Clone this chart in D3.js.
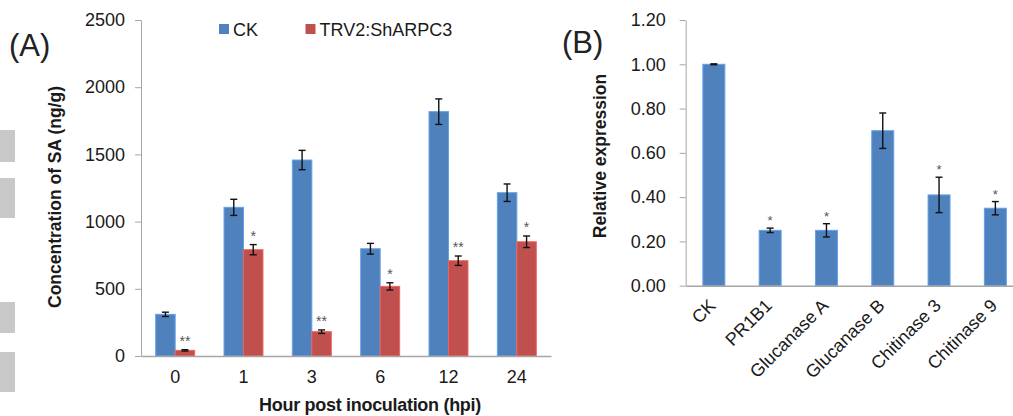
<!DOCTYPE html>
<html><head><meta charset="utf-8">
<script src="https://cdn.jsdelivr.net/npm/d3@7"></script>
<style>
html,body{margin:0;padding:0;background:#fff;}
svg{display:block;font-family:"Liberation Sans",Arial,sans-serif;}
</style></head>
<body>
<svg id="c" width="1013" height="416"></svg>
<script>
// ---- Panel A data ----
const hours = ["0","1","3","6","12","24"];
const ckValues = [310, 1106, 1458, 798, 1818, 1215];
const ckErrors = [16, 60, 72, 40, 95, 65];
const trvValues = [42, 791, 181, 518, 709, 850];
const trvErrors = [5, 38, 13, 27, 35, 43];
const trvStars = ["**", "*", "**", "*", "**", "*"];
const seriesNames = ["CK", "TRV2:ShARPC3"];
const ticksA = [0, 500, 1000, 1500, 2000, 2500];

// ---- Panel B data ----
const genes = ["CK", "PR1B1", "Glucanase A", "Glucanase B", "Chitinase 3", "Chitinase 9"];
const relExpr = [1.00, 0.25, 0.25, 0.70, 0.41, 0.35];
const relErr = [0.002, 0.01, 0.03, 0.08, 0.08, 0.03];
const relStars = ["", "*", "*", "", "*", "*"];
const ticksB = [0, 0.2, 0.4, 0.6, 0.8, 1.0, 1.2];

const BLUE = "#4f81bd", RED = "#c0504d", AXIS = "#a6a6a6", TXT = "#1a1a1a";
const svg = d3.select("#c");

// left-edge grey artifacts
[[130,32],[178,40],[302,31],[352,40]].forEach(([y,h]) =>
  svg.append("rect").attr("x",0).attr("y",y).attr("width",15).attr("height",h).attr("fill","#c8c8c8"));

function errBar(g, x, yTop, yBot, cap) {
  g.append("line").attr("x1",x).attr("x2",x).attr("y1",yTop).attr("y2",yBot);
  g.append("line").attr("x1",x-cap).attr("x2",x+cap).attr("y1",yTop).attr("y2",yTop);
  g.append("line").attr("x1",x-cap).attr("x2",x+cap).attr("y1",yBot).attr("y2",yBot);
}

// ================= Panel A =================
const xA = d3.scaleBand().domain(hours).range([141, 551]).paddingInner(0.43).paddingOuter(0.215);
const xSub = d3.scaleBand().domain(seriesNames).range([0, xA.bandwidth()]);
const yA = d3.scaleLinear().domain([0, 2500]).range([356, 20]);

const gA = svg.append("g");
const rowsA = hours.map((h,i) => ({h, vals:[
  {s:seriesNames[0], v:ckValues[i], e:ckErrors[i], star:"", c:BLUE},
  {s:seriesNames[1], v:trvValues[i], e:trvErrors[i], star:trvStars[i], c:RED}]}));

rowsA.forEach(r => {
  r.vals.forEach(d => {
    const x = xA(r.h) + xSub(d.s);
    gA.append("rect").attr("x", x).attr("y", yA(d.v)).attr("width", xSub.bandwidth())
      .attr("height", yA(0) - yA(d.v)).attr("fill", d.c)
      .attr("stroke", d3.color(d.c).brighter(0.6)).attr("stroke-width", 1);
    const eg = gA.append("g").attr("stroke", "#111").attr("stroke-width", 1.4);
    const cx = x + xSub.bandwidth()/2;
    errBar(eg, cx, yA(d.v + d.e), yA(d.v - d.e), 3.5);
    if (d.star) gA.append("text").attr("x", cx).attr("y", yA(d.v + d.e) - 4)
      .attr("text-anchor","middle").attr("font-size", 14).attr("fill","#555").text(d.star);
  });
});

const axA = gA.append("g").attr("transform","translate(141,0)")
  .call(d3.axisLeft(yA).tickValues(ticksA).tickFormat(d3.format("d")).tickSize(6).tickSizeOuter(0).tickPadding(10));
axA.select(".domain").attr("stroke", AXIS);
axA.selectAll(".tick line").attr("stroke", AXIS);
axA.selectAll(".tick text").attr("font-size", 18).attr("fill", TXT).attr("font-family","Liberation Sans, Arial");

const axAx = gA.append("g").attr("transform","translate(0,356)")
  .call(d3.axisBottom(xA).tickSize(0).tickPadding(14));
axAx.select(".domain").attr("stroke", AXIS).attr("stroke-width", 1.5);
axAx.selectAll(".tick text").attr("font-size", 18).attr("fill", TXT).attr("font-family","Liberation Sans, Arial");

gA.append("text").attr("transform","translate(61,197) rotate(-90)").attr("text-anchor","middle")
  .attr("font-size", 17.5).attr("font-weight","bold").attr("fill", TXT).text("Concentration of SA (ng/g)");
gA.append("text").attr("x", 370).attr("y", 411).attr("text-anchor","middle")
  .attr("font-size", 18).attr("font-weight","bold").attr("fill", TXT).attr("letter-spacing", -0.3)
  .text("Hour post inoculation (hpi)");
gA.append("text").attr("x", 9).attr("y", 56).attr("font-size", 31).attr("fill", "#222").text("(A)");

// legend
const legX = [219, 305.5];
seriesNames.forEach((s,i) => {
  gA.append("rect").attr("x", legX[i]).attr("y", 24).attr("width", 10).attr("height", 10)
    .attr("fill", i ? RED : BLUE);
  gA.append("text").attr("x", legX[i] + 14).attr("y", 35.5).attr("font-size", 18).attr("fill", TXT).text(s);
});

// ================= Panel B =================
const xB = d3.scaleBand().domain(genes).range([685.7, 1023.5]).paddingInner(0.61).paddingOuter(0.305);
const yB = d3.scaleLinear().domain([0, 1.2]).range([285.7, 20]);
const gB = svg.append("g");

genes.forEach((g,i) => {
  const x = xB(g), cx = x + xB.bandwidth()/2;
  gB.append("rect").attr("x", x).attr("y", yB(relExpr[i])).attr("width", xB.bandwidth())
    .attr("height", yB(0) - yB(relExpr[i])).attr("fill", BLUE)
    .attr("stroke", d3.color(BLUE).brighter(0.6)).attr("stroke-width", 1);
  const eg = gB.append("g").attr("stroke", "#111").attr("stroke-width", 1.4);
  errBar(eg, cx, yB(relExpr[i] + relErr[i]), yB(relExpr[i] - relErr[i]), 3.5);
  if (relStars[i]) gB.append("text").attr("x", cx).attr("y", yB(relExpr[i] + relErr[i]) - 3)
    .attr("text-anchor","middle").attr("font-size", 13).attr("fill","#555").text(relStars[i]);
});

const axB = gB.append("g").attr("transform","translate(685.7,0)")
  .call(d3.axisLeft(yB).tickValues(ticksB).tickFormat(d3.format(".2f")).tickSize(6).tickSizeOuter(0).tickPadding(14));
axB.select(".domain").attr("stroke", AXIS);
axB.selectAll(".tick line").attr("stroke", AXIS);
axB.selectAll(".tick text").attr("font-size", 18).attr("fill", TXT).attr("font-family","Liberation Sans, Arial");

const axBx = gB.append("g").attr("transform","translate(0,285.7)")
  .call(d3.axisBottom(xB).tickSize(0));
axBx.select(".domain").attr("stroke", AXIS).attr("stroke-width", 1.5);
axBx.selectAll(".tick text").attr("font-size", 18).attr("fill", TXT).attr("font-family","Liberation Sans, Arial")
  .attr("x", 0).attr("y", 0).attr("dy", null).style("text-anchor","end")
  .attr("transform","translate(3,21) rotate(-45)");

gB.append("text").attr("transform","translate(606,156) rotate(-90)").attr("text-anchor","middle")
  .attr("font-size", 17.5).attr("font-weight","bold").attr("fill", TXT).text("Relative expression");
gB.append("text").attr("x", 562).attr("y", 53).attr("font-size", 31).attr("fill", "#222").text("(B)");
</script>
</body></html>
